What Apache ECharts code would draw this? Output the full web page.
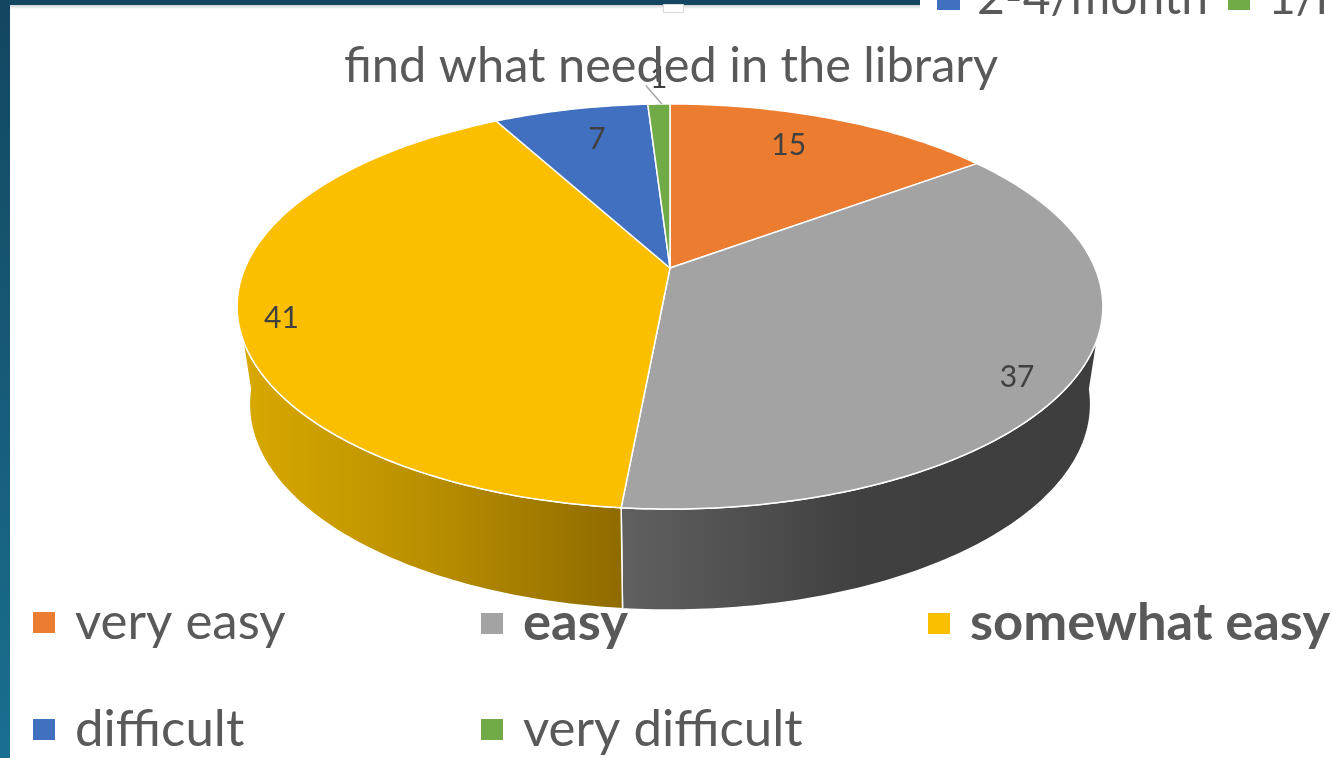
<!DOCTYPE html>
<html>
<head>
<meta charset="utf-8">
<style>html,body{margin:0;padding:0;background:#fff;overflow:hidden}#c{width:1332px;height:758px}</style>
<script src="https://cdn.jsdelivr.net/npm/echarts@6/dist/echarts.min.js"></script>
</head>
<body>
<div id="c"></div>
<script>
const categories = ['very easy', 'easy', 'somewhat easy', 'difficult', 'very difficult'];
const values = [15, 37, 41, 7, 1];
const colors = ['#EB7C30', '#A3A3A3', '#FBBF00', '#4270C0', '#70AB47'];
const titleText = 'find what needed in the library';
const wallStops = {
  1: ['#606060', '#404040', '#3e3e3e'],
  2: ['#d9a900', '#b88e00', '#8f6b00']
};
const labelNudge = [[-16, 0], [27, 26], [-45, 18], [9, 2], [-2, -54]];
const legendSpots = [[33, 625, 'normal', 51], [481, 625, 'bold', 52.5], [928, 625, 'bold', 52.5], [33, 732, 'normal', 51], [481, 732, 'normal', 51]];

const total = values.reduce((a, b) => a + b, 0);
const starts = [];
values.reduce((acc, v, i) => { starts[i] = acc; return acc + v; }, 0);
const toA = v => v / total * Math.PI * 2;
const P = 0.19;
const TOP = { cx: 670, cy: 268, A: 425, B: 195.2 };
const BOT = { cx: 670, cy: 365, A: 413, B: 198.5 };
function proj(pl, a, r) {
  const X = r * Math.sin(a), Y = r * Math.cos(a), w = 1 + P * Y;
  return [pl.cx + pl.A * X / w, pl.cy - pl.B * Y / w];
}
function arc(pl, a0, a1) {
  const n = Math.max(2, Math.ceil(Math.abs(a1 - a0) / 0.015)), pts = [];
  for (let k = 0; k <= n; k++) pts.push(proj(pl, a0 + (a1 - a0) * k / n, 1));
  return pts;
}
const FRONT0 = Math.acos(-0.336), FRONT1 = 2 * Math.PI - FRONT0;
const BASE0 = Math.acos(-0.12), BASE1 = 2 * Math.PI - BASE0;

function renderSlice(i) {
  return function (params, api) {
    const v = api.value(0);
    const a0 = toA(starts[i]), a1 = a0 + toA(v);
    const children = [];
    const w0 = Math.max(a0, FRONT0), w1 = Math.min(a1, FRONT1);
    if (w1 > w0 && wallStops[i]) {
      const s = wallStops[i];
      const b0 = Math.max(a0, BASE0), b1 = Math.min(a1, BASE1);
      children.push({
        type: 'polygon',
        shape: { points: arc(TOP, w0, w1).concat(arc(BOT, b1, b0)) },
        style: {
          fill: { type: 'linear', x: 0, y: 0, x2: 1, y2: 0, colorStops: s.map((c, k) => ({ offset: k / (s.length - 1), color: c })) },
          stroke: '#ffffff', lineWidth: 1.5
        }
      });
    }
    children.push({
      type: 'polygon',
      shape: { points: [[TOP.cx, TOP.cy]].concat(arc(TOP, a0, a1)) },
      style: { fill: colors[i], stroke: '#ffffff', lineWidth: 1.5, lineJoin: 'round' }
    });
    const mid = (a0 + a1) / 2;
    const lp = proj(TOP, mid, 0.8);
    const lx = lp[0] + labelNudge[i][0], ly = lp[1] + labelNudge[i][1];
    if (i === 4) {
      const e = proj(TOP, mid, 1);
      children.push({
        type: 'line',
        shape: { x1: e[0] + 3, y1: e[1], x2: lx - 13, y2: ly + 7 },
        style: { stroke: '#a6a6a6', lineWidth: 1.5 }
      });
    }
    children.push({
      type: 'text',
      z2: 5,
      style: {
        x: lx, y: ly, text: String(v), align: 'center', verticalAlign: 'middle',
        fill: '#404040', font: '30px Lato, "Open Sans", sans-serif'
      }
    });
    return { type: 'group', children };
  };
}

const chart = echarts.init(document.getElementById('c'), null, { renderer: 'canvas' });
chart.setOption({
  animation: false,
  backgroundColor: '#ffffff',
  title: {
    text: titleText, left: 344, top: 42, padding: 0,
    textStyle: { color: '#595959', fontSize: 48.7, fontWeight: 'normal', fontFamily: 'Lato' }
  },
  tooltip: { show: false },
  legend: categories.map((c, i) => ({
    data: [{ name: c, icon: 'rect' }],
    left: legendSpots[i][0], top: legendSpots[i][1] - 28, padding: 0,
    itemWidth: 22, itemHeight: 21, selectedMode: false,
    textStyle: {
      color: '#595959', fontSize: legendSpots[i][3], fontFamily: 'Lato', fontWeight: legendSpots[i][2],
      padding: [0, 0, 0, 15]
    }
  })),
  graphic: [
    { type: 'rect', left: 0, top: 0, shape: { width: 10, height: 758 }, z: 50,
      style: { fill: { type: 'linear', x: 0, y: 0, x2: 0, y2: 1, colorStops: [{ offset: 0, color: '#134660' }, { offset: 1, color: '#1a6f90' }] } } },
    { type: 'rect', left: 0, top: 5, shape: { width: 920, height: 4 }, z: 49,
      style: { fill: { type: 'linear', x: 0, y: 0, x2: 0, y2: 1, colorStops: [{ offset: 0, color: '#d0d0d0' }, { offset: 1, color: '#ffffff' }] } } },
    { type: 'rect', left: 0, top: 0, shape: { width: 920, height: 5 }, z: 50, style: { fill: '#134660' } },
    { type: 'rect', left: 663, top: 4, shape: { width: 20, height: 8 }, z: 51, style: { fill: '#ffffff', stroke: '#d9d9d9', lineWidth: 1 } },
    { type: 'rect', left: 937, top: 0, shape: { width: 23, height: 10 }, z: 50, style: { fill: '#4270C0' } },
    { type: 'rect', left: 1228, top: 0, shape: { width: 22, height: 10 }, z: 50, style: { fill: '#70AB47' } },
    { type: 'text', left: 977, top: -25, z: 50, style: { text: '2-4/month', fill: '#595959', font: '48px Lato' } },
    { type: 'text', left: 1268, top: -25, z: 50, style: { text: '1/month', fill: '#595959', font: '48px Lato' } }
  ],
  series: categories.map((c, i) => ({
    type: 'custom',
    name: c,
    coordinateSystem: 'none',
    silent: true,
    itemStyle: { color: colors[i] },
    renderItem: renderSlice(i),
    data: [[values[i]]]
  }))
});
</script>
</body>
</html>
